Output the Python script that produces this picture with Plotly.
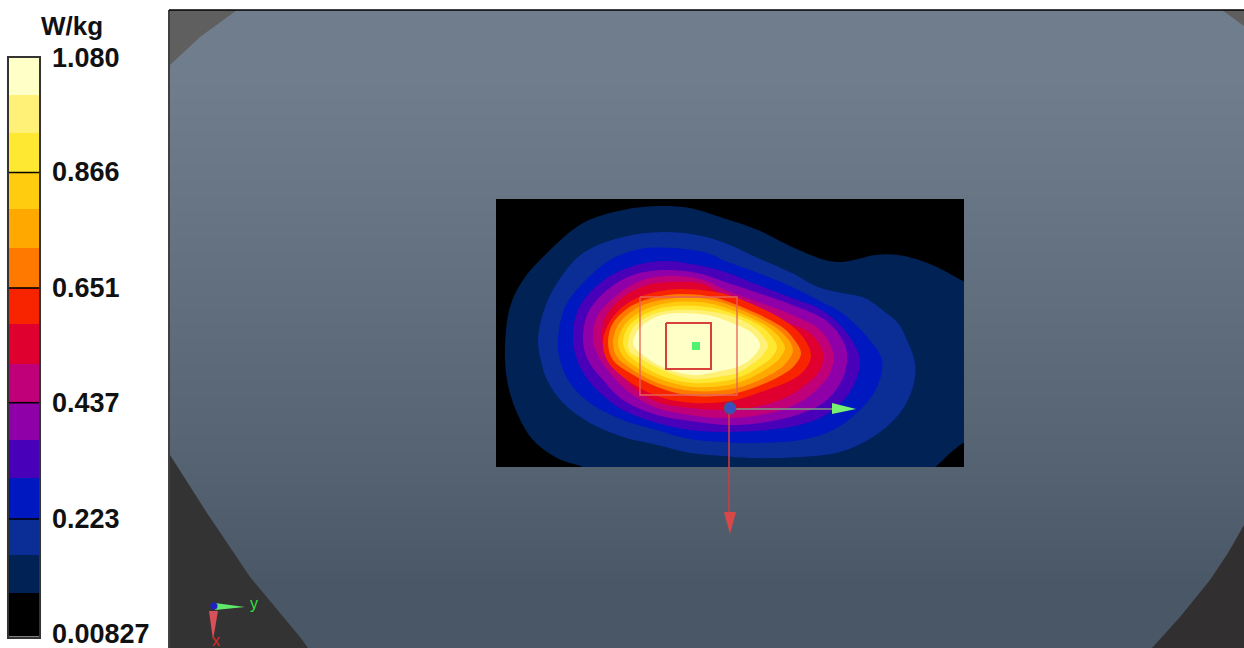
import plotly.graph_objects as go

# ---------- colour scale ----------
unit = "W/kg"
scale_labels = ["1.080", "0.866", "0.651", "0.437", "0.223", "0.00827"]
band_colors_top_down = ["#ffffc8", "#fff078", "#ffe832", "#ffcc10", "#ffa800", "#ff7800",
                        "#f82400", "#e00030", "#c00078", "#9000a8", "#4800b8", "#0018c0",
                        "#0a2d96", "#002255", "#000000"]
scale_edges = [1.080, 1.0115, 0.9411, 0.8679, 0.8003, 0.7286, 0.6539, 0.5872, 0.5131, 0.4414,
               0.3723, 0.3019, 0.2260, 0.1593, 0.0889, 0.00827]
scale_tick_lines = [0.8679, 0.6539, 0.4414, 0.2260]
scale_label_at = [1.0800, 0.8679, 0.6539, 0.4414, 0.2260, 0.0120]

# ---------- measured contour outlines, outermost first ----------
L1_x = [610,583,557,533,517,507,505,510,523,547,583,623,657,690,723,758,792,825,842,858,875,898,925,952,985,1000,1000,960,905,610]
L1_y = [478,467,458,440,413,380,347,307,280,253,223,210,206,208,218,230,247,260,262,259,255,255,262,275,297,340,420,445,485,478]
L2_x = [538,543,557,583,623,663,697,725,758,792,818,842,865,885,898,906,915,913,900,873,840,800,750,723,690,657,623,590,563,547,540,538]
L2_y = [340,313,283,253,237,232,235,243,258,273,287,293,298,312,323,338,363,387,413,437,452,457,458,456,453,445,437,423,403,380,357,340]
L3_x = [558,565,583,610,640,673,707,725,758,792,818,842,858,868,882,877,860,833,800,750,723,690,657,623,590,570,560,558]
L3_y = [340,307,283,260,249,248,253,261,273,287,300,313,327,338,360,387,410,430,440,443,442,439,430,420,403,383,360,340]
L4_x = [573,578,600,630,663,697,725,758,792,818,838,853,860,853,833,807,767,727,690,657,623,597,580,573]
L4_y = [340,310,283,267,261,265,272,285,298,308,323,342,360,387,410,423,430,432,430,423,410,390,367,340]
L5_x = [583,588,607,633,663,697,725,758,792,822,838,847,842,823,797,760,727,690,657,623,603,588,583]
L5_y = [340,313,290,275,270,273,282,293,305,318,333,353,380,403,415,423,425,421,415,400,380,360,340]
L6_x = [593,597,617,643,670,703,725,758,792,820,833,830,813,790,760,727,690,657,630,610,597,593]
L6_y = [340,317,295,280,276,280,290,302,315,330,353,373,393,407,415,418,415,408,393,373,353,340]
L7_x = [602,605,623,647,673,703,725,758,785,810,823,820,803,780,750,723,690,657,633,617,605,602]
L7_y = [340,318,297,285,282,284,297,310,322,333,353,370,387,400,408,410,408,402,387,367,347,340]
L8_x = [603,613,633,667,710,737,788,805,811,807,795,758,730,693,660,627,607,603]
L8_y = [340,317,300,290,291,298,323,340,355,367,378,393,401,403,397,380,360,340]
L9_x = [608,613,633,667,707,737,782,793,801,795,782,737,693,660,630,613,608]
L9_y = [343,323,305,295,296,305,327,338,353,365,375,393,396,388,373,360,343]
L10_x = [613,618,637,667,707,737,775,787,793,787,775,737,693,660,630,617,613]
L10_y = [343,325,308,299,299,308,327,338,350,362,372,388,391,384,368,357,343]
L11_x = [618,623,640,667,707,737,768,780,785,780,768,737,693,660,633,622,618]
L11_y = [343,327,312,303,303,312,327,338,348,358,368,383,387,379,365,355,343]
L12_x = [623,628,643,667,707,737,762,772,777,772,762,737,693,660,637,627,623]
L12_y = [343,327,315,307,307,315,327,337,347,357,365,378,383,375,362,353,343]
L13_x = [628,633,647,667,707,737,755,763,768,763,755,737,723,693,660,640,630,628]
L13_y = [343,328,317,311,311,318,328,336,345,355,362,373,376,379,369,358,352,343]
L14_x = [633,638,650,667,707,737,752,760,752,737,720,693,660,643,635,633]
L14_y = [343,330,320,314,315,325,333,345,358,367,371,375,366,355,348,343]

contours_x = [L1_x, L2_x, L3_x, L4_x, L5_x, L6_x, L7_x, L8_x, L9_x, L10_x, L11_x, L12_x, L13_x, L14_x]
contours_y = [L1_y, L2_y, L3_y, L4_y, L5_y, L6_y, L7_y, L8_y, L9_y, L10_y, L11_y, L12_y, L13_y, L14_y]
contour_colors = band_colors_top_down[::-1][1:]

# ---------- scene ----------
panel_x = [170, 707, 1244]
panel_y = [10, 138, 266, 394, 522, 648]
panel_shades = ["#6f7d8d", "#677585", "#5e6c7c", "#556372", "#4a5766"]
scan_left, scan_right, scan_top, scan_bottom = 496, 964, 199, 467
corner_tl_x, corner_tl_y = [170, 170, 200, 237], [10, 65, 37, 10]
corner_tr_x, corner_tr_y = [1222, 1244, 1244], [10, 26, 10]
corner_bl_x, corner_bl_y = [170, 207, 250, 300, 308, 170], [455, 513, 577, 637, 648, 648]
corner_br_x, corner_br_y = [1244, 1228, 1210, 1180, 1152, 1244], [525, 553, 580, 617, 648, 648]

W, H = 1244, 648
fig = go.Figure()

fig.add_trace(go.Heatmap(
    x=panel_x, y=panel_y,
    z=[[i / 4, i / 4] for i in range(5)],
    colorscale=[[i / 4, c] for i, c in enumerate(panel_shades)],
    zsmooth="best", showscale=False, hoverinfo="skip", xaxis="x", yaxis="y"))

def poly(x, y, color, shape="linear", ax=("x", "y")):
    fig.add_trace(go.Scatter(x=x, y=y, mode="lines", fill="toself", fillcolor=color,
                             line=dict(color=color, width=0, shape=shape),
                             hoverinfo="skip", showlegend=False, xaxis=ax[0], yaxis=ax[1]))

def line(x, y, color, width):
    fig.add_trace(go.Scatter(x=x, y=y, mode="lines", line=dict(color=color, width=width),
                             hoverinfo="skip", showlegend=False, xaxis="x3", yaxis="y3"))

poly(corner_tl_x, corner_tl_y, "#605f5f")
poly(corner_tr_x, corner_tr_y, "#5f5e5e")
poly(corner_bl_x, corner_bl_y, "#333333")
poly(corner_br_x, corner_br_y, "#312f2f")

# measurement area: its own axes clip the outer contour at the scan edges
for cx, cy, col in zip(contours_x, contours_y, contour_colors):
    poly(cx, cy, col, shape="spline", ax=("x2", "y2"))

# frame of the 3D view
line([169, 169], [648, 10], "#000000", 1.5)
line([169, 1244], [10, 10], "#000000", 1.5)

# scan boxes and peak
AX3 = ("x3", "y3")
line([640, 737, 737, 640, 640], [297, 297, 395, 395, 297], "#e86058", 1.3)
line([666, 711, 711, 666, 666], [323, 323, 369, 369, 323], "#d8403c", 2)
fig.add_trace(go.Scatter(x=[696], y=[346], mode="markers",
                         marker=dict(symbol="square", size=8, color="#50f070"),
                         hoverinfo="skip", showlegend=False, xaxis="x3", yaxis="y3"))

# probe axes
line([730, 834], [409, 409], "#7f9a80", 1.6)
line([729, 729], [409, 514], "#c83c44", 1.6)
poly([832, 856, 832], [403, 409, 414], "#78f070", ax=AX3)
poly([724, 736, 730], [512, 512, 534], "#d84848", ax=AX3)
fig.add_trace(go.Scatter(x=[730], y=[408], mode="markers",
                         marker=dict(size=12, color="#3a50c0", line=dict(color="#505560", width=1)),
                         hoverinfo="skip", showlegend=False, xaxis="x3", yaxis="y3"))

# orientation triad
poly([215, 245, 215], [603, 607, 610], "#60e868", ax=AX3)
poly([209, 218, 213], [611, 611, 640], "#d85058", ax=AX3)
fig.add_trace(go.Scatter(x=[214], y=[606], mode="markers", marker=dict(size=7, color="#2020c8"),
                         hoverinfo="skip", showlegend=False, xaxis="x3", yaxis="y3"))

# colour scale as a heatmap on its own axes
n = len(band_colors_top_down)
stops = []
for i, c in enumerate(band_colors_top_down[::-1]):
    stops += [[i / n, c], [(i + 1) / n, c]]
fig.add_trace(go.Heatmap(
    x=[0, 1], y=scale_edges[::-1],
    z=[[i] for i in range(n)], zmin=-0.5, zmax=n - 0.5,
    colorscale=stops, showscale=False, hoverinfo="skip", xaxis="x4", yaxis="y4"))
for t in scale_tick_lines:
    fig.add_trace(go.Scatter(x=[0, 1], y=[t, t], mode="lines", line=dict(color="#000000", width=1.6),
                             hoverinfo="skip", showlegend=False, xaxis="x4", yaxis="y4"))

label_font = dict(family="Liberation Sans", size=27, color="#111111", weight=700)
hidden = dict(visible=False, fixedrange=True, automargin=False)
scale_annotations = [
    dict(text=lab, x=50 / W, y=val, xref="paper", yref="y4", xanchor="left", yanchor="middle",
         showarrow=False, font=label_font)
    for lab, val in zip(scale_labels, scale_label_at)
]
fig.update_layout(
    template="none",
    width=W, height=H, autosize=False,
    margin=dict(l=0, r=0, t=0, b=0, pad=0),
    paper_bgcolor="#ffffff", plot_bgcolor="rgba(0,0,0,0)", showlegend=False,
    xaxis=dict(domain=[0, 1], range=[0, W], **hidden),
    yaxis=dict(domain=[0, 1], range=[H, 0], **hidden),
    xaxis2=dict(domain=[scan_left / W, scan_right / W], range=[scan_left, scan_right], anchor="y2", **hidden),
    yaxis2=dict(domain=[1 - scan_bottom / H, 1 - scan_top / H], range=[scan_bottom, scan_top], anchor="x2", **hidden),
    xaxis3=dict(domain=[0, 1], range=[0, W], anchor="y3", **hidden),
    yaxis3=dict(domain=[0, 1], range=[H, 0], anchor="x3", **hidden),
    xaxis4=dict(domain=[9 / W, 39 / W], range=[0, 1], anchor="y4", visible=True,
                showticklabels=False, ticks="", showgrid=False, zeroline=False, automargin=False,
                showline=True, mirror=True, linecolor="#333333", linewidth=1.5, fixedrange=True),
    yaxis4=dict(domain=[1 - 636.5 / H, 1 - 58 / H], range=[0.00827, 1.080], anchor="x4",
                side="right", showticklabels=False, ticks="",
                showgrid=False, zeroline=False, showline=True, mirror=True, automargin=False,
                linecolor="#333333", linewidth=1.5, fixedrange=True),
    shapes=[dict(type="rect", xref="x2", yref="y2", layer="below",
                 x0=scan_left, x1=scan_right, y0=scan_top, y1=scan_bottom,
                 fillcolor="#000000", line=dict(width=0))],
    annotations=scale_annotations + [
        dict(text=unit, x=72 / W, y=1 - 26 / H, xref="paper", yref="paper", showarrow=False,
             xanchor="center", yanchor="middle",
             font=dict(family="Liberation Sans", size=26, color="#111111", weight=700)),
        dict(text="y", x=254, y=603, xref="x3", yref="y3", showarrow=False,
             font=dict(family="Liberation Sans", size=16, color="#30e040")),
        dict(text="x", x=216, y=640, xref="x3", yref="y3", showarrow=False,
             font=dict(family="Liberation Sans", size=16, color="#e02828")),
    ],
)
fig.write_html("out.html", config=dict(displayModeBar=False),
               post_script="document.body.style.margin='0';document.body.style.overflow='hidden';")
